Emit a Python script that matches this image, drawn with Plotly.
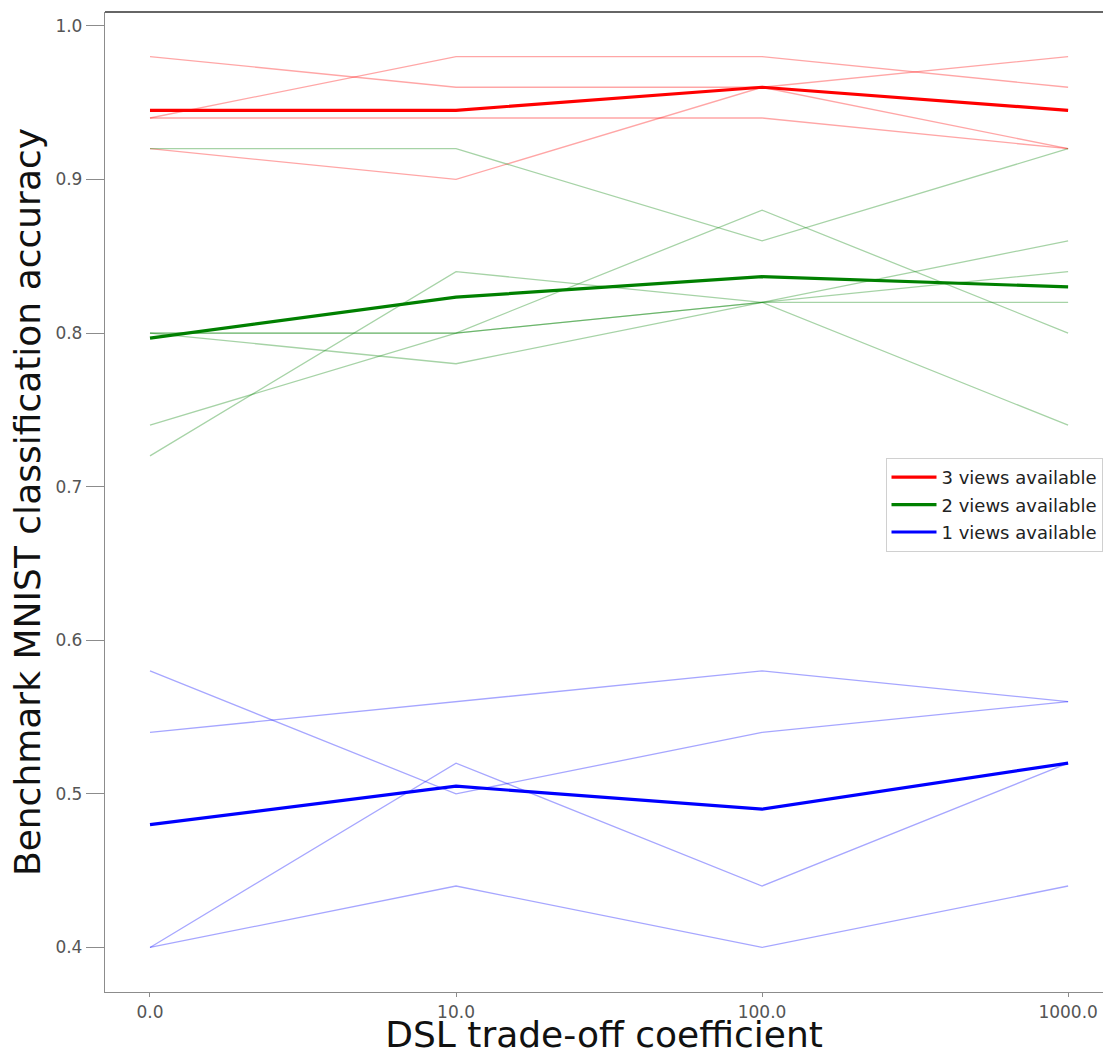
import numpy as np
import plotly.graph_objects as go

coefficients = ["0.0", "10.0", "100.0", "1000.0"]

# individual runs, 3 views available
runs_3views = [
    [0.98, 0.96, 0.96, 0.98],
    [0.94, 0.98, 0.98, 0.96],
    [0.94, 0.94, 0.94, 0.92],
    [0.92, 0.90, 0.96, 0.92],
]
# individual runs, 2 views available
runs_2views = [
    [0.92, 0.92, 0.86, 0.92],
    [0.80, 0.80, 0.82, 0.86],
    [0.80, 0.78, 0.82, 0.84],
    [0.74, 0.80, 0.88, 0.80],
    [0.72, 0.84, 0.82, 0.74],
    [0.80, 0.80, 0.82, 0.82],
]
# individual runs, 1 view available
runs_1view = [
    [0.58, 0.50, 0.54, 0.56],
    [0.54, 0.56, 0.58, 0.56],
    [0.40, 0.52, 0.44, 0.52],
    [0.40, 0.44, 0.40, 0.44],
]

series_names = ["3 views available", "2 views available", "1 views available"]
series_runs = [runs_3views, runs_2views, runs_1view]
thin_colors = ["rgba(255,0,0,0.35)", "rgba(0,128,0,0.35)", "rgba(0,0,255,0.35)"]
thick_colors = ["#ff0000", "#008000", "#0000ff"]

fig = go.Figure()

for runs, tc in zip(series_runs, thin_colors):
    for r in runs:
        fig.add_trace(go.Scatter(
            x=coefficients, y=r, mode="lines",
            line=dict(color=tc, width=1.3),
            showlegend=False, hoverinfo="skip",
        ))

for i, (name, runs, c) in enumerate(zip(series_names, series_runs, thick_colors)):
    mean = np.mean(np.array(runs), axis=0)
    fig.add_trace(go.Scatter(
        x=coefficients, y=mean, mode="lines", name=name,
        line=dict(color=c, width=3.2),
        legendgroup=f"g{i}",
    ))

font_family = "DejaVu Sans"

fig.update_layout(
    width=1103, height=1055,
    margin=dict(l=105, r=0, t=12, b=63),
    paper_bgcolor="white", plot_bgcolor="white",
    font=dict(family=font_family, color="#444"),
    showlegend=True,
    legend=dict(
        x=0.9995, xanchor="right", y=0.5449, yanchor="top",
        bgcolor="white", bordercolor="#d0d0d0", borderwidth=1,
        font=dict(family=font_family, size=18, color="#222"),
        tracegroupgap=1, itemwidth=45,
    ),
    xaxis=dict(
        type="category",
        range=[-0.147, 3.114],
        showline=True, linecolor="#8c8c8c", linewidth=1.3,
        ticks="outside", ticklen=4, tickcolor="#8c8c8c",
        tickfont=dict(size=17, color="#555"),
        showgrid=False, zeroline=False,
        title=dict(text="DSL trade-off coefficient",
                   font=dict(size=36, color="#111"), standoff=7),
    ),
    yaxis=dict(
        range=[0.371, 1.009],
        tickvals=[0.4, 0.5, 0.6, 0.7, 0.8, 0.9, 1.0],
        tickformat=".1f",
        showline=True, linecolor="#8c8c8c", linewidth=1.3,
        ticks="outside", ticklen=18, tickcolor="#8c8c8c",
        tickfont=dict(size=17, color="#555"),
        showgrid=False, zeroline=False,
        title=dict(text="Benchmark MNIST classification accuracy",
                   font=dict(size=36, color="#111"), standoff=3),
    ),
    shapes=[dict(type="line", xref="paper", yref="paper",
                 x0=0, x1=1, y0=1, y1=1,
                 line=dict(color="#333", width=1.3))],
)

fig.write_html(
    "out.html",
    config={"displayModeBar": False},
    post_script="document.body.style.margin='0';document.body.style.overflow='hidden';",
)
